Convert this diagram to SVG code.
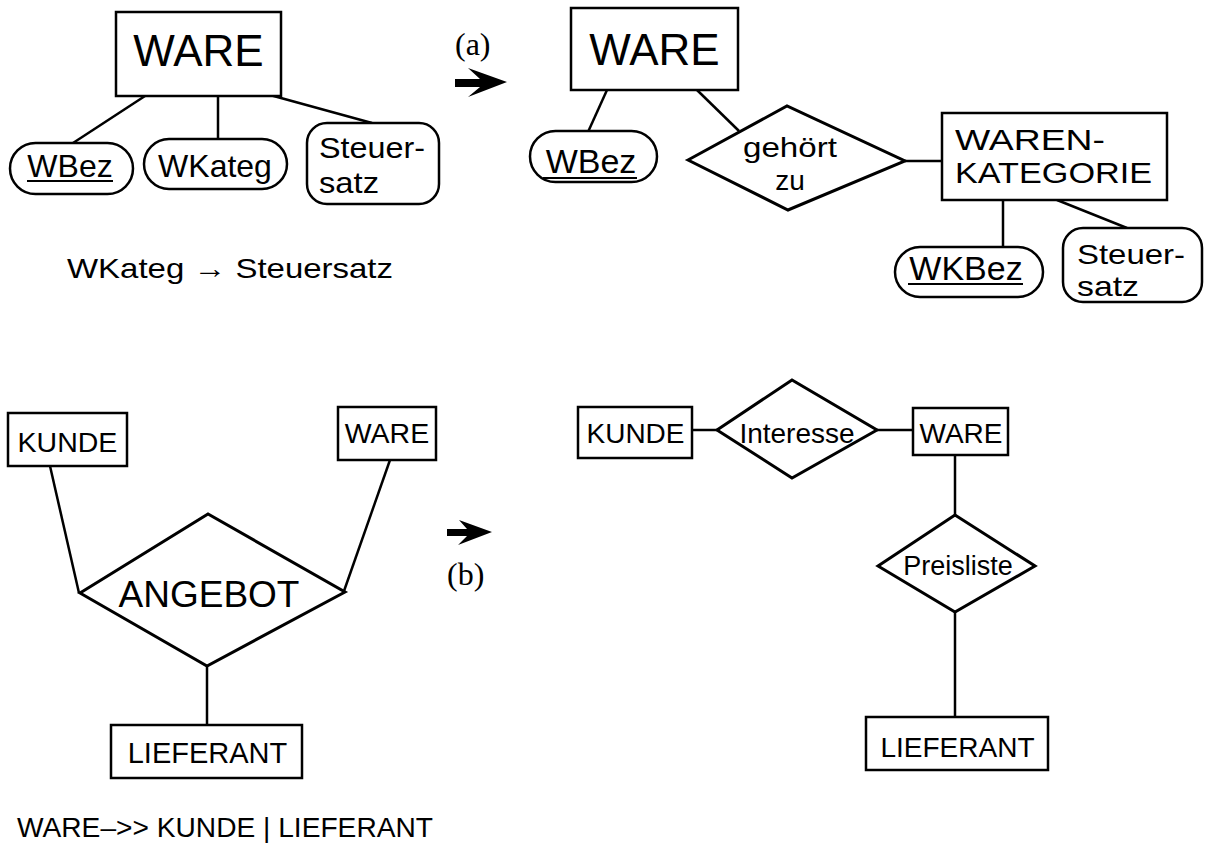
<svg xmlns="http://www.w3.org/2000/svg" width="1208" height="859" viewBox="0 0 1208 859">
<style>
.box{fill:#fff;stroke:#000;stroke-width:2.5}
.dia{fill:#fff;stroke:#000;stroke-width:3;stroke-linejoin:miter}
.ln{stroke:#000;stroke-width:2.5;fill:none}
.t{font-family:"Liberation Sans",Arial,sans-serif;fill:#000}
.s{font-family:"Liberation Serif","Times New Roman",serif;fill:#000}
.ul{stroke:#000;stroke-width:2}
.arr{fill:#000}
</style>
<rect width="1208" height="859" fill="#fff"/>
<g id="connectors">
<line class="ln" x1="145" y1="96" x2="73" y2="143"/>
<line class="ln" x1="218" y1="96" x2="218" y2="139"/>
<line class="ln" x1="270" y1="95" x2="372" y2="123"/>
<line class="ln" x1="607" y1="90" x2="588" y2="132"/>
<line class="ln" x1="697" y1="90" x2="739" y2="131"/>
<line class="ln" x1="905" y1="161" x2="942" y2="161"/>
<line class="ln" x1="1003" y1="200" x2="1003" y2="247"/>
<line class="ln" x1="1057" y1="200" x2="1127" y2="228"/>
<line class="ln" x1="50" y1="466" x2="79" y2="593"/>
<line class="ln" x1="390" y1="460" x2="344" y2="591"/>
<line class="ln" x1="207" y1="666" x2="207" y2="725"/>
<line class="ln" x1="692" y1="430" x2="717" y2="430"/>
<line class="ln" x1="877" y1="430" x2="913" y2="430"/>
<line class="ln" x1="955" y1="455" x2="955" y2="515"/>
<line class="ln" x1="955" y1="612" x2="955" y2="717"/>
</g>
<g id="ware1">
<rect class="box" x="116" y="12" width="165" height="84"/>
<text class="t" x="198.5" y="66" font-size="44" text-anchor="middle">WARE</text>
</g>
<g id="wbez1">
<rect class="box" x="10" y="143" width="123" height="51" rx="25.5"/>
<text class="t" x="70" y="177" font-size="32" text-anchor="middle">WBez</text>
<line class="ul" x1="27" y1="181" x2="113" y2="181"/>
</g>
<g id="wkateg">
<rect class="box" x="144" y="139" width="143" height="50" rx="25"/>
<text class="t" x="215" y="177" font-size="32" text-anchor="middle">WKateg</text>
</g>
<g id="steuersatz1">
<rect class="box" x="307" y="123" width="132" height="81" rx="20"/>
<text class="t" x="319" y="158" font-size="30" textLength="106" lengthAdjust="spacingAndGlyphs">Steuer-</text>
<text class="t" x="319" y="193" font-size="30" textLength="60" lengthAdjust="spacingAndGlyphs">satz</text>
</g>
<text class="t" x="67" y="278" font-size="28" textLength="326" lengthAdjust="spacingAndGlyphs">WKateg → Steuersatz</text>
<g id="label-a">
<text class="s" x="455" y="55" font-size="32">(a)</text>
<polygon class="arr" points="455,79 480,79 468,68 507,82 468,97 480,87 455,87"/>
</g>
<g id="ware2">
<rect class="box" x="571" y="8" width="167" height="82"/>
<text class="t" x="654.5" y="65" font-size="44" text-anchor="middle">WARE</text>
</g>
<g id="wbez2">
<rect class="box" x="530" y="131" width="127" height="51" rx="25.5"/>
<text class="t" x="591" y="173" font-size="34" text-anchor="middle">WBez</text>
<line class="ul" x1="543" y1="178" x2="637" y2="178"/>
</g>
<g id="gehoert-zu">
<polygon class="dia" points="688,160 787,106 905,161 788,210"/>
<text class="t" x="790" y="157" font-size="28" text-anchor="middle" textLength="94" lengthAdjust="spacingAndGlyphs">gehört</text>
<text class="t" x="790" y="190" font-size="28" text-anchor="middle">zu</text>
</g>
<g id="warenkategorie">
<rect class="box" x="942" y="113" width="225" height="87"/>
<text class="t" x="955" y="150" font-size="29" textLength="150" lengthAdjust="spacingAndGlyphs">WAREN-</text>
<text class="t" x="955" y="183" font-size="29" textLength="197" lengthAdjust="spacingAndGlyphs">KATEGORIE</text>
</g>
<g id="wkbez">
<rect class="box" x="895" y="247" width="148" height="50" rx="25"/>
<text class="t" x="966" y="280" font-size="34" text-anchor="middle">WKBez</text>
<line class="ul" x1="908" y1="284" x2="1023" y2="284"/>
</g>
<g id="steuersatz2">
<rect class="box" x="1063" y="228" width="139" height="74" rx="20"/>
<text class="t" x="1077" y="264" font-size="28" textLength="108" lengthAdjust="spacingAndGlyphs">Steuer-</text>
<text class="t" x="1077" y="296" font-size="28" textLength="62" lengthAdjust="spacingAndGlyphs">satz</text>
</g>
<g id="kunde1">
<rect class="box" x="8" y="413" width="119" height="53"/>
<text class="t" x="67.5" y="452" font-size="28.5" text-anchor="middle">KUNDE</text>
</g>
<g id="ware3">
<rect class="box" x="338" y="407" width="98" height="53"/>
<text class="t" x="387" y="443" font-size="28.5" text-anchor="middle">WARE</text>
</g>
<g id="angebot">
<polygon class="dia" points="80,593 208,514 345,592 207,666"/>
<text class="t" x="209" y="607" font-size="37" text-anchor="middle">ANGEBOT</text>
</g>
<g id="lieferant1">
<rect class="box" x="111" y="725" width="191" height="53"/>
<text class="t" x="207.5" y="763" font-size="29" text-anchor="middle">LIEFERANT</text>
</g>
<text class="t" x="17" y="837" font-size="28" textLength="416" lengthAdjust="spacingAndGlyphs">WARE–&gt;&gt; KUNDE | LIEFERANT</text>
<g id="label-b">
<polygon class="arr" points="447,529 467,529 459,520 492,532 458,545 467,536 447,536"/>
<text class="s" x="447" y="585" font-size="32">(b)</text>
</g>
<g id="kunde2">
<rect class="box" x="578" y="407" width="114" height="51"/>
<text class="t" x="635.5" y="443" font-size="28" text-anchor="middle">KUNDE</text>
</g>
<g id="interesse">
<polygon class="dia" points="717,430 792,380 877,430 792,478"/>
<text class="t" x="797" y="443" font-size="28" text-anchor="middle">Interesse</text>
</g>
<g id="ware4">
<rect class="box" x="913" y="408" width="95" height="47"/>
<text class="t" x="961" y="443" font-size="28" text-anchor="middle">WARE</text>
</g>
<g id="preisliste">
<polygon class="dia" points="878,566 955,515 1035,566 955,612"/>
<text class="t" x="958" y="575" font-size="27" text-anchor="middle">Preisliste</text>
</g>
<g id="lieferant2">
<rect class="box" x="866" y="717" width="182" height="53"/>
<text class="t" x="957.5" y="757" font-size="28" text-anchor="middle">LIEFERANT</text>
</g>
</svg>
